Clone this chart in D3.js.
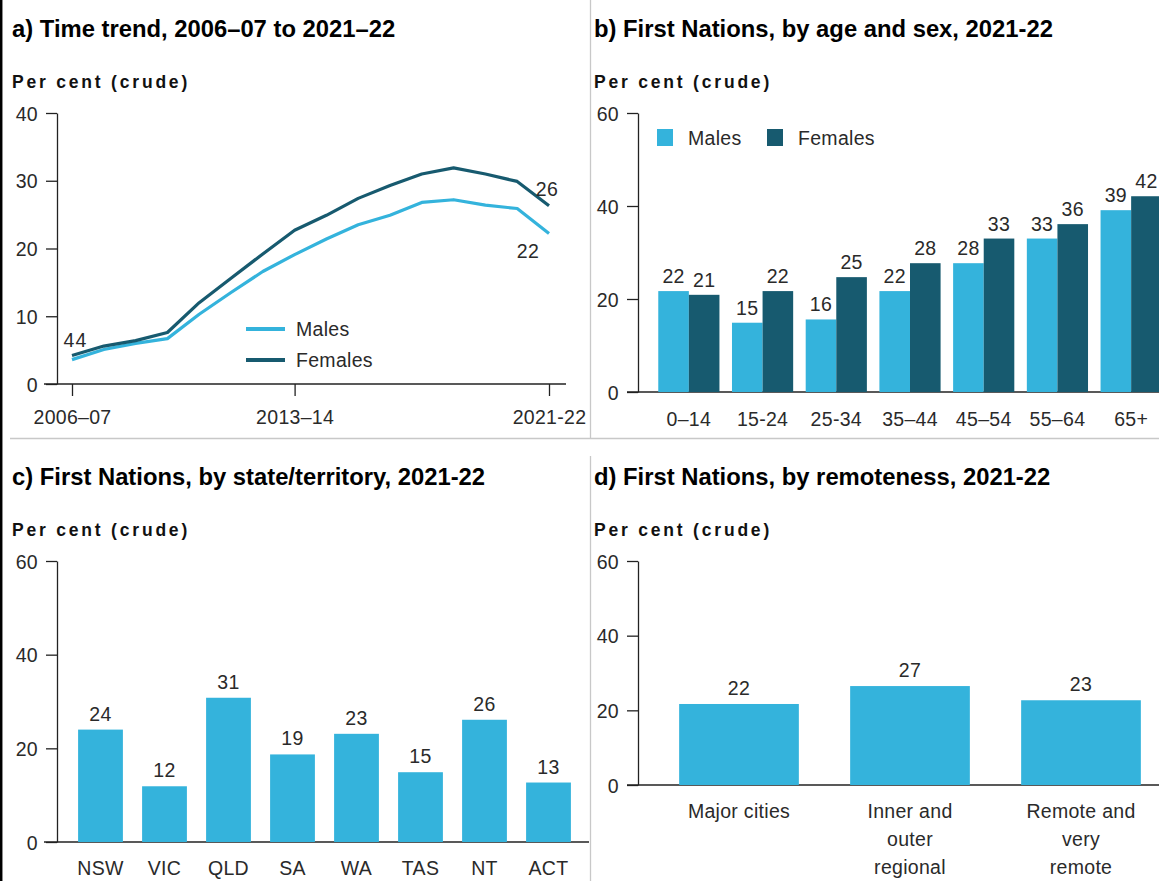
<!DOCTYPE html>
<html>
<head>
<meta charset="utf-8">
<script src="https://cdn.jsdelivr.net/npm/d3@7"></script>
<style>
  html, body { margin: 0; padding: 0; background: #fff; }
  svg { display: block; }
  text { font-family: "Liberation Sans", Arial, sans-serif; fill: #222; }
  .title { font-weight: bold; font-size: 23.8px; fill: #000; }
  .ylab { font-weight: bold; font-size: 17.5px; letter-spacing: 2.8px; fill: #111; }
  .tick text, .lbl { font-size: 19.5px; letter-spacing: 0.3px; fill: #2a2a2a; }
  .domain, .tick line { stroke: #222; stroke-width: 1.3; }
</style>
</head>
<body>
<svg id="chart" width="1159" height="881"></svg>
<script>
// ---------- DATA ----------
const trendYears = ["2006–07","2007–08","2008–09","2009–10","2010–11","2011–12","2012–13","2013–14","2014–15","2015–16","2016–17","2017–18","2018–19","2019–20","2020–21","2021–22"];
const trendTickLabels = ["2006–07","2013–14","2021-22"];
const trendMales   = [3.6, 5.1, 6.0, 6.7, 10.3, 13.5, 16.6, 19.1, 21.4, 23.5, 24.9, 26.8, 27.2, 26.4, 25.9, 22.2];
const trendFemales = [4.2, 5.6, 6.4, 7.6, 12.0, 15.6, 19.2, 22.7, 24.9, 27.4, 29.3, 31.0, 31.9, 31.0, 29.9, 26.3];
const trendTicksY = [0, 10, 20, 30, 40];

const ageGroups = ["0–14","15-24","25-34","35–44","45–54","55–64","65+"];
const ageMales   = [21.7, 14.9, 15.6, 21.7, 27.7, 33.0, 39.1];
const ageFemales = [20.9, 21.7, 24.7, 27.7, 33.0, 36.1, 42.1];

const states = ["NSW","VIC","QLD","SA","WA","TAS","NT","ACT"];
const stateValues = [24.0, 11.9, 30.8, 18.7, 23.1, 14.9, 26.1, 12.7];

const remoteness = [["Major cities"], ["Inner and","outer","regional"], ["Remote and","very","remote"]];
const remoteValues = [21.7, 26.5, 22.7];

const barTicksY = [0, 20, 40, 60];
const seriesNames = ["Males", "Females"];
const colLight = "#34b3dc";
const colDark = "#175a6f";

// ---------- SVG ----------
const svg = d3.select("#chart");

// frame / dividers
svg.append("line").attr("x1",1.2).attr("x2",1.2).attr("y1",0).attr("y2",881).attr("stroke","#000").attr("stroke-width",2.5);
svg.append("line").attr("x1",10).attr("x2",1159).attr("y1",438.5).attr("y2",438.5).attr("stroke","#c8c8c8").attr("stroke-width",1.3);
svg.append("line").attr("x1",590.5).attr("x2",590.5).attr("y1",0).attr("y2",438).attr("stroke","#c8c8c8").attr("stroke-width",1.3);
svg.append("line").attr("x1",590.5).attr("x2",590.5).attr("y1",456).attr("y2",881).attr("stroke","#c8c8c8").attr("stroke-width",1.3);

function header(x, yTitle, title) {
  svg.append("text").attr("class","title").attr("x",x).attr("y",yTitle).text(title);
  svg.append("text").attr("class","ylab").attr("x",x).attr("y",yTitle+51).text("Per cent (crude)");
}

function yAxis(g, scale, ticks) {
  g.call(d3.axisLeft(scale).tickValues(ticks).tickSize(11).tickPadding(8).tickSizeOuter(0));
  g.selectAll(".tick text").attr("dy","0.36em");
}

function xBaseline(x1, x2, y) {
  svg.append("line").attr("x1",x1).attr("x2",x2).attr("y1",y).attr("y2",y).attr("stroke","#222").attr("stroke-width",1.3);
}

// ---------- PANEL A ----------
header(12, 37, "a) Time trend, 2006–07 to 2021–22");
{
  const x = d3.scalePoint().domain(trendYears).range([72, 549]);
  const y = d3.scaleLinear().domain([0, 40]).range([384, 113]);
  const gy = svg.append("g").attr("transform","translate(57,0)");
  yAxis(gy, y, trendTicksY);
  xBaseline(44, 566, 384);
  const gx = svg.append("g").attr("transform","translate(0,384)");
  gx.call(d3.axisBottom(x).tickValues(["2006–07","2013–14","2021–22"]).tickSize(12).tickPadding(14).tickSizeOuter(0)
     .tickFormat((d,i)=>trendTickLabels[i]));
  gx.select(".domain").remove();

  const line = d3.line().x((d,i)=>x(trendYears[i])).y(d=>y(d));
  svg.append("path").datum(trendMales).attr("d",line).attr("fill","none").attr("stroke",colLight).attr("stroke-width",3.2).attr("stroke-linejoin","round");
  svg.append("path").datum(trendFemales).attr("d",line).attr("fill","none").attr("stroke",colDark).attr("stroke-width",3.2).attr("stroke-linejoin","round");

  const first = 0, last = trendYears.length-1;
  svg.append("text").attr("class","lbl").attr("text-anchor","middle").attr("x",x(trendYears[first])-3).attr("y",y(trendFemales[first])-9).text(d3.format(".0f")(trendMales[first]));
  svg.append("text").attr("class","lbl").attr("text-anchor","middle").attr("x",x(trendYears[first])+9).attr("y",y(trendFemales[first])-9).text(d3.format(".0f")(trendFemales[first]));
  svg.append("text").attr("class","lbl").attr("text-anchor","middle").attr("x",x(trendYears[last])-2).attr("y",y(trendFemales[last])-10).text(d3.format(".0f")(trendFemales[last]));
  svg.append("text").attr("class","lbl").attr("text-anchor","middle").attr("x",x(trendYears[last])-21).attr("y",y(trendMales[last])+24).text(d3.format(".0f")(trendMales[last]));

  // legend
  [colLight, colDark].forEach((c,i)=>{
    const ly = 329 + i*31;
    svg.append("line").attr("x1",246).attr("x2",285).attr("y1",ly).attr("y2",ly).attr("stroke",c).attr("stroke-width",4);
    svg.append("text").attr("class","lbl").attr("x",296).attr("y",ly).attr("dy","0.36em").text(seriesNames[i]);
  });
}

// ---------- PANEL B ----------
header(594, 37, "b) First Nations, by age and sex, 2021-22");
{
  const x0 = d3.scaleBand().domain(ageGroups).range([652, 1168]).paddingInner(0.17).paddingOuter(0.085);
  const x1 = d3.scaleBand().domain(seriesNames).range([0, x0.bandwidth()]);
  const y = d3.scaleLinear().domain([0, 60]).range([392, 113]);
  const gy = svg.append("g").attr("transform","translate(638,0)");
  yAxis(gy, y, barTicksY);
  xBaseline(627, 1159, 392);
  const gx = svg.append("g").attr("transform","translate(0,392)");
  gx.call(d3.axisBottom(x0).tickSize(0).tickPadding(20));
  gx.select(".domain").remove();

  const groups = ageGroups.map((g,i)=>({g, vals:[ageMales[i], ageFemales[i]]}));
  const gg = svg.selectAll(".ag").data(groups).enter().append("g").attr("transform",d=>`translate(${x0(d.g)},0)`);
  gg.selectAll("rect").data(d=>d.vals.map((v,j)=>({v, s:seriesNames[j]}))).enter().append("rect")
    .attr("x",d=>x1(d.s)).attr("width",x1.bandwidth()).attr("y",d=>y(d.v)).attr("height",d=>392-y(d.v))
    .attr("fill",(d,j)=>j===0?colLight:colDark);
  gg.selectAll("text.v").data(d=>d.vals.map((v,j)=>({v, s:seriesNames[j]}))).enter().append("text")
    .attr("class","lbl v").attr("text-anchor","middle").attr("x",d=>x1(d.s)+x1.bandwidth()/2).attr("y",d=>y(d.v)-8)
    .text(d=>d3.format(".0f")(d.v));

  // legend
  [colLight, colDark].forEach((c,i)=>{
    const lx = [657, 767][i];
    svg.append("rect").attr("x",lx).attr("y",129).attr("width",16).attr("height",17).attr("fill",c);
    svg.append("text").attr("class","lbl").attr("x",lx+31).attr("y",138).attr("dy","0.36em").text(seriesNames[i]);
  });
}

// ---------- PANEL C ----------
header(12, 485, "c) First Nations, by state/territory, 2021-22");
{
  const x = d3.scaleBand().domain(states).range([68.5, 580.5]).paddingInner(0.3).paddingOuter(0.15);
  const y = d3.scaleLinear().domain([0, 60]).range([842, 561]);
  const gy = svg.append("g").attr("transform","translate(57,0)");
  yAxis(gy, y, barTicksY);
  xBaseline(44, 589, 842);
  const gx = svg.append("g").attr("transform","translate(0,842)");
  gx.call(d3.axisBottom(x).tickSize(0).tickPadding(19));
  gx.select(".domain").remove();
  svg.selectAll(".sb").data(states).enter().append("rect")
    .attr("x",d=>x(d)).attr("width",x.bandwidth()).attr("y",(d,i)=>y(stateValues[i])).attr("height",(d,i)=>842-y(stateValues[i]))
    .attr("fill",colLight);
  svg.selectAll(".sl").data(states).enter().append("text").attr("class","lbl").attr("text-anchor","middle")
    .attr("x",d=>x(d)+x.bandwidth()/2).attr("y",(d,i)=>y(stateValues[i])-9).text((d,i)=>d3.format(".0f")(stateValues[i]));
}

// ---------- PANEL D ----------
header(594, 485, "d) First Nations, by remoteness, 2021-22");
{
  const keys = remoteness.map(d=>d.join(" "));
  const x = d3.scaleBand().domain(keys).range([653.5, 1166.5]).paddingInner(0.3).paddingOuter(0.15);
  const y = d3.scaleLinear().domain([0, 60]).range([785, 561]);
  const gy = svg.append("g").attr("transform","translate(638,0)");
  yAxis(gy, y, barTicksY);
  xBaseline(627, 1159, 785);
  svg.selectAll(".rb").data(keys).enter().append("rect")
    .attr("x",d=>x(d)).attr("width",x.bandwidth()).attr("y",(d,i)=>y(remoteValues[i])).attr("height",(d,i)=>785-y(remoteValues[i]))
    .attr("fill",colLight);
  svg.selectAll(".rl").data(keys).enter().append("text").attr("class","lbl").attr("text-anchor","middle")
    .attr("x",d=>x(d)+x.bandwidth()/2).attr("y",(d,i)=>y(remoteValues[i])-9).text((d,i)=>d3.format(".0f")(remoteValues[i]));
  const cl = svg.selectAll(".rc").data(remoteness).enter().append("text").attr("class","lbl").attr("text-anchor","middle")
    .attr("transform",(d,i)=>`translate(${x(keys[i])+x.bandwidth()/2},818)`);
  cl.selectAll("tspan").data(d=>d).enter().append("tspan").attr("x",0).attr("y",(d,i)=>i*28).text(d=>d);
}
</script>
</body>
</html>
